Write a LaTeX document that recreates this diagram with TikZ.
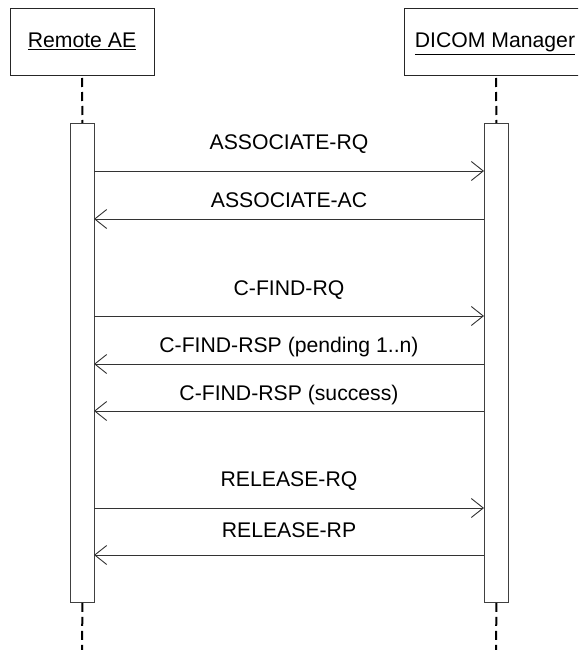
\documentclass[tikz,border=0pt]{standalone}
\usepackage{fontspec}
\setmainfont{Liberation Sans}
\usetikzlibrary{arrows.meta}
\begin{document}
\begin{tikzpicture}[x=1pt,y=-1pt,
  objbox/.style={draw=black!85,line width=0.9pt,fill=white},
  actbox/.style={draw=black!75,line width=0.9pt,fill=white,minimum width=24pt,inner sep=0pt,anchor=north west},
  lifeline/.style={line width=2pt,dash pattern=on 9pt off 5pt,black},
  msg/.style={draw=black!80,line width=0.9pt,-{Straight Barb[length=12pt,width=19pt,line width=0.9pt]}},
  lbl/.style={font=\fontsize{21.2}{25}\selectfont,anchor=base,inner sep=0pt}]
\useasboundingbox (0,0) rectangle (578,650);
\begin{scope}
\clip (0,0) rectangle (578,650);
% objects
\node[objbox,minimum width=144pt,minimum height=67pt,anchor=north west] (ra) at (10,8) {};
\node[lbl] (ratext) at (82,48) {\underline{Remote AE}};
\node[objbox,minimum width=184pt,minimum height=67pt,anchor=north west] (dm) at (404,8) {};
\node[lbl] (dmtext) at (495,48) {\underline{DICOM Manager}};
% activation boxes
\node[actbox,minimum height=479pt] (al) at (70,123) {};
\node[actbox,minimum height=479pt] (ar) at (484,123) {};
% lifelines
\coordinate (lt) at (82,78);
\coordinate (rt) at (496,78);
\coordinate (lb) at (82,650);
\coordinate (rb) at (496,650);
\draw[lifeline] (lt) -- (al.north);
\draw[lifeline] (rt) -- (ar.north);
\draw[lifeline] (al.south) -- (lb);
\draw[lifeline] (ar.south) -- (rb);
% message anchor coordinates
\foreach \n/\y in {1/171,2/219,3/316,4/364,5/411,6/508,7/555}{
  \coordinate (L\n) at (94,\y);
  \coordinate (R\n) at (484,\y);
}
% messages
\draw[msg] (L1) -- (R1);
\node[lbl] (m1) at (289,149) {ASSOCIATE-RQ};
\draw[msg] (R2) -- (L2);
\node[lbl] (m2) at (289,207) {ASSOCIATE-AC};
\draw[msg] (L3) -- (R3);
\node[lbl] (m3) at (289,295) {C-FIND-RQ};
\draw[msg] (R4) -- (L4);
\node[lbl] (m4) at (289,352) {C-FIND-RSP (pending 1..n)};
\draw[msg] (R5) -- (L5);
\node[lbl] (m5) at (289,400) {C-FIND-RSP (success)};
\draw[msg] (L6) -- (R6);
\node[lbl] (m6) at (289,486) {RELEASE-RQ};
\draw[msg] (R7) -- (L7);
\node[lbl] (m7) at (289,537) {RELEASE-RP};
\end{scope}
\end{tikzpicture}
\end{document}
